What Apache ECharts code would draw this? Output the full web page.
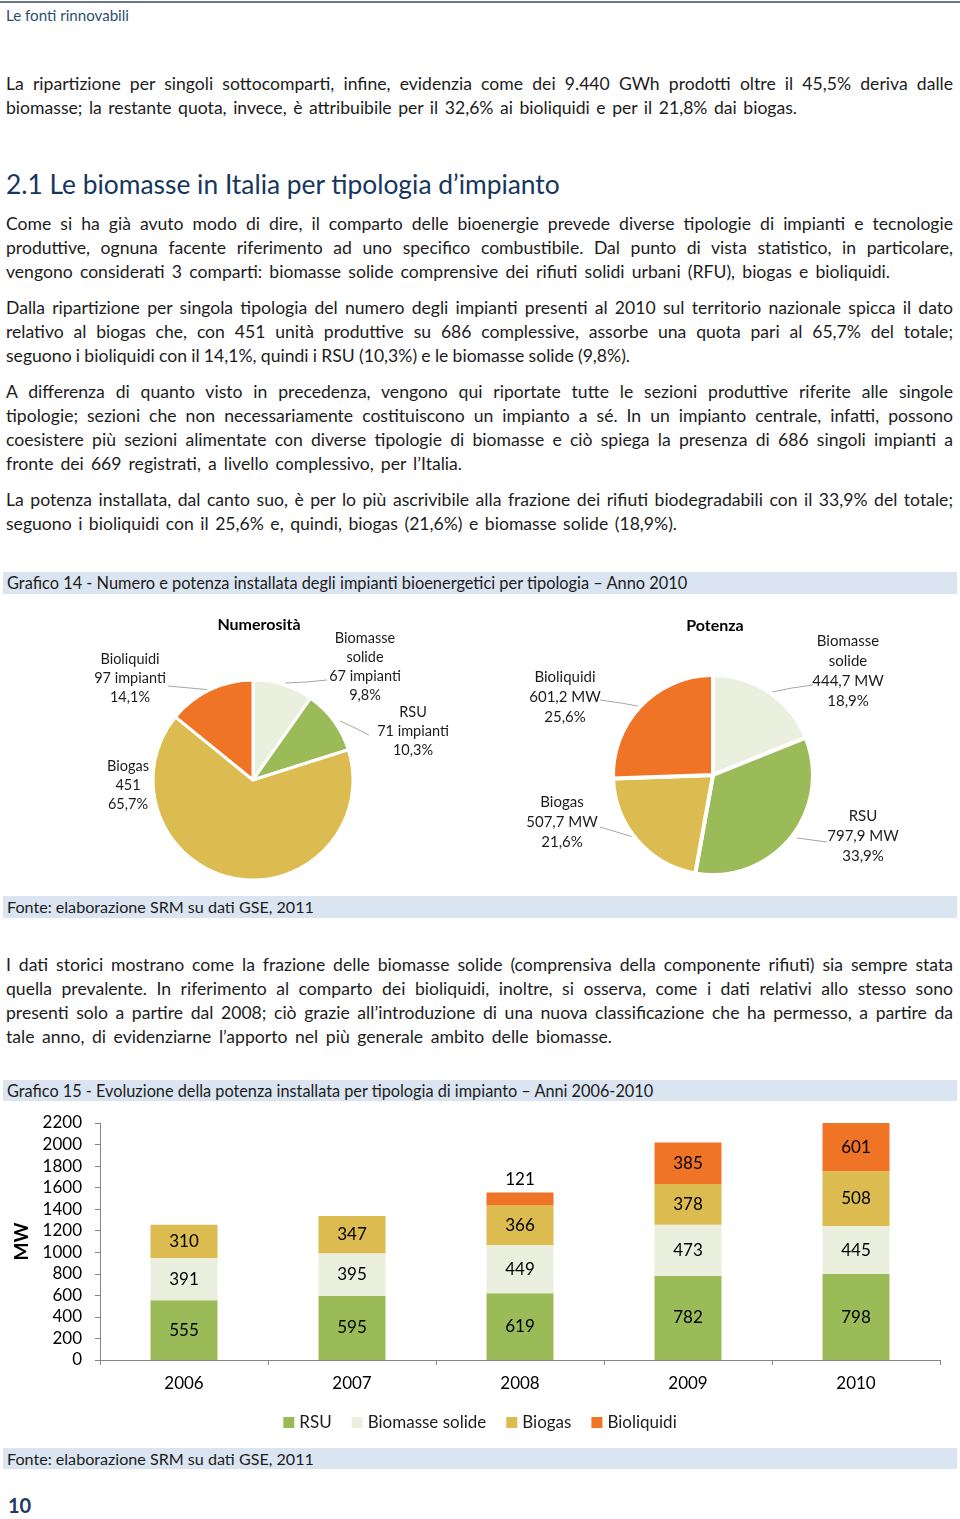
<!DOCTYPE html>
<html><head><meta charset="utf-8">
<script src="https://cdn.jsdelivr.net/npm/echarts@6/dist/echarts.min.js"></script>
<style>
html,body{margin:0;padding:0;background:#fff;}
body{width:960px;height:1519px;position:relative;overflow:hidden;font-family:Lato,"Open Sans",sans-serif;color:#1c1c1c;}
.topline{position:absolute;left:0;top:1px;width:960px;height:2px;background:#6b7785;}
.hdr{position:absolute;left:6px;top:5px;line-height:20px;font-size:14.5px;color:#2e4d72;white-space:nowrap;}
.ln{position:absolute;left:6px;white-space:nowrap;font-size:17.6px;line-height:24px;height:24px;}
.h2{position:absolute;left:6px;top:168px;line-height:32px;font-size:24px;color:#17365d;white-space:nowrap;}
.cap{position:absolute;left:3px;width:954px;background:#dbe5f1;}
.cap span{position:absolute;left:4px;top:0;white-space:nowrap;font-size:15.5px;line-height:22px;color:#1c1c1c;}
.pg{position:absolute;left:8px;top:1493px;font-weight:bold;font-size:20px;line-height:24px;color:#1f3864;}
#pies{position:absolute;left:0;top:600px;width:960px;height:292px;}
#bars{position:absolute;left:0;top:1104px;width:960px;height:342px;}
</style>
</head><body>
<div class="topline"></div>
<div class="hdr fit" data-w="123">Le fonti rinnovabili</div>

<div class="ln" style="top:72px" data-end="953">La ripartizione per singoli sottocomparti, infine, evidenzia come dei 9.440 GWh prodotti oltre il 45,5% deriva dalle</div>
<div class="ln" style="top:96px" data-end="797">biomasse; la restante quota, invece, è attribuibile per il 32,6% ai bioliquidi e per il 21,8% dai biogas.</div>

<div class="h2 fit" data-w="554">2.1 Le biomasse in Italia per tipologia d’impianto</div>

<div class="ln" style="top:212px" data-end="953">Come si ha già avuto modo di dire, il comparto delle bioenergie prevede diverse tipologie di impianti e tecnologie</div>
<div class="ln" style="top:236px" data-end="953">produttive, ognuna facente riferimento ad uno specifico combustibile. Dal punto di vista statistico, in particolare,</div>
<div class="ln" style="top:260px" data-end="890">vengono considerati 3 comparti: biomasse solide comprensive dei rifiuti solidi urbani (RFU), biogas e bioliquidi.</div>

<div class="ln" style="top:296px" data-end="953">Dalla ripartizione per singola tipologia del numero degli impianti presenti al 2010 sul territorio nazionale spicca il dato</div>
<div class="ln" style="top:320px" data-end="953">relativo al biogas che, con 451 unità produttive su 686 complessive, assorbe una quota pari al 65,7% del totale;</div>
<div class="ln" style="top:344px" data-end="630">seguono i bioliquidi con il 14,1%, quindi i RSU (10,3%) e le biomasse solide (9,8%).</div>

<div class="ln" style="top:380px" data-end="953">A differenza di quanto visto in precedenza, vengono qui riportate tutte le sezioni produttive riferite alle singole</div>
<div class="ln" style="top:404px" data-end="953">tipologie; sezioni che non necessariamente costituiscono un impianto a sé. In un impianto centrale, infatti, possono</div>
<div class="ln" style="top:428px" data-end="953">coesistere più sezioni alimentate con diverse tipologie di biomasse e ciò spiega la presenza di 686 singoli impianti a</div>
<div class="ln" style="top:452px" data-end="462">fronte dei 669 registrati, a livello complessivo, per l’Italia.</div>

<div class="ln" style="top:488px" data-end="953">La potenza installata, dal canto suo, è per lo più ascrivibile alla frazione dei rifiuti biodegradabili con il 33,9% del totale;</div>
<div class="ln" style="top:512px" data-end="677">seguono i bioliquidi con il 25,6% e, quindi, biogas (21,6%) e biomasse solide (18,9%).</div>

<div class="cap" style="top:572px;height:22px"><span class="fit" data-w="681">Grafico 14 - Numero e potenza installata degli impianti bioenergetici per tipologia – Anno 2010</span></div>
<div id="pies"></div>
<div class="cap" style="top:896px;height:22px"><span class="fit" data-w="307">Fonte: elaborazione SRM su dati GSE, 2011</span></div>

<div class="ln" style="top:953px" data-end="953">I dati storici mostrano come la frazione delle biomasse solide (comprensiva della componente rifiuti) sia sempre stata</div>
<div class="ln" style="top:977px" data-end="953">quella prevalente. In riferimento al comparto dei bioliquidi, inoltre, si osserva, come i dati relativi allo stesso sono</div>
<div class="ln" style="top:1001px" data-end="953">presenti solo a partire dal 2008; ciò grazie all’introduzione di una nuova classificazione che ha permesso, a partire da</div>
<div class="ln" style="top:1025px" data-end="612">tale anno, di evidenziarne l’apporto nel più generale ambito delle biomasse.</div>

<div class="cap" style="top:1080px;height:21px"><span class="fit" data-w="647" style="line-height:21px">Grafico 15 - Evoluzione della potenza installata per tipologia di impianto – Anni 2006-2010</span></div>
<div id="bars"></div>
<div class="cap" style="top:1448px;height:21px"><span class="fit" data-w="307" style="line-height:21px">Fonte: elaborazione SRM su dati GSE, 2011</span></div>

<div class="pg">10</div>

<script>
// ---- text fitting (layout only) ----
document.querySelectorAll('.ln').forEach(function(el){
  var target = parseFloat(el.getAttribute('data-end')) - 6;
  var r = document.createRange(); r.selectNodeContents(el);
  var w = r.getBoundingClientRect().width;
  var spaces = (el.textContent.match(/ /g) || []).length;
  if (spaces) el.style.wordSpacing = ((target - w) / spaces) + 'px';
});
document.querySelectorAll('.fit').forEach(function(el){
  var target = parseFloat(el.getAttribute('data-w'));
  var r = document.createRange(); r.selectNodeContents(el);
  var w = r.getBoundingClientRect().width;
  var fs = parseFloat(getComputedStyle(el).fontSize);
  el.style.fontSize = (fs * target / w) + 'px';
});

// ---- data ----
var pieCategories = ['Biomasse solide', 'RSU', 'Biogas', 'Bioliquidi'];
var numImpianti = [67, 71, 451, 97];
var numPercent = ['9,8%', '10,3%', '65,7%', '14,1%'];
var potenzaMW = [444.7, 797.9, 507.7, 601.2];
var potPercent = ['18,9%', '33,9%', '21,6%', '25,6%'];

var years = ['2006', '2007', '2008', '2009', '2010'];
var rsu = [555, 595, 619, 782, 798];
var biomasseSolide = [391, 395, 449, 473, 445];
var biogas = [310, 347, 366, 378, 508];
var bioliquidi = [null, null, 121, 385, 601];
var yMin = 0, yMax = 2200, yStep = 200;

// ---- styles ----
var colors = {'RSU':'#9bbb59', 'Biomasse solide':'#ebf0de', 'Biogas':'#dcbc50', 'Bioliquidi':'#ef7426'};
var FONT = 'Lato';
var pie1Units = [' impianti', ' impianti', '', ' impianti'];
var pie1Layout = [
  {x:365, y:66.5, line:[[285,83],[306,82],[327,80]]},
  {x:413, y:131, line:[[340,121],[355,128],[369,135]]},
  {x:128, y:185, line:null},
  {x:130, y:78, line:[[212,90],[190,88],[168,86]]}
];
var pie2Layout = [
  {x:848, y:71, line:[[772,92],[792,88],[813,85]]},
  {x:863, y:236, line:[[797,238],[812,240],[827,242]]},
  {x:562, y:222, line:[[640,239],[620,233],[600,227]]},
  {x:565, y:97, line:[[643,107],[621,103],[600,100]]}
];

function lbl(name){ return name.replace(' ', '\n'); }

var pies = echarts.init(document.getElementById('pies'));
pies.setOption({
  animation:false,
  textStyle:{fontFamily:FONT},
  graphic:[
    {type:'text', x:259, y:25, style:{text:'Numerosità', align:'center', verticalAlign:'middle', font:'bold 16px Lato', fill:'#000'}},
    {type:'text', x:715, y:26, style:{text:'Potenza', align:'center', verticalAlign:'middle', font:'bold 16px Lato', fill:'#000'}}
  ],
  series:[
    {
      type:'pie', center:[253,180], radius:100, startAngle:90, clockwise:true,
      silent:true, emphasis:{disabled:true},
      itemStyle:{borderColor:'#fff', borderWidth:3},
      label:{show:true, fontSize:14.5, lineHeight:19, color:'#1c1c1c', fontFamily:FONT,
        formatter:function(p){ var i=p.dataIndex; return lbl(pieCategories[i]) + '\n' + numImpianti[i] + pie1Units[i] + '\n' + numPercent[i]; }},
      labelLine:{show:true, lineStyle:{color:'#a6a6a6', width:1}},
      labelLayout:function(p){ var L = pie1Layout[p.dataIndex]; var o = {x:L.x, y:L.y, align:'center', verticalAlign:'middle'}; if (L.line) o.labelLinePoints = L.line; return o; },
      data: pieCategories.map(function(c,i){ var d = {name:c, value:numImpianti[i], itemStyle:{color:colors[c]}}; if(!pie1Layout[i].line) d.labelLine={show:false}; return d; })
    },
    {
      type:'pie', center:[713,175], radius:100, startAngle:90, clockwise:true,
      silent:true, emphasis:{disabled:true},
      itemStyle:{borderColor:'#fff', borderWidth:4},
      label:{show:true, fontSize:15, lineHeight:20, color:'#1c1c1c', fontFamily:FONT,
        formatter:function(p){ var i=p.dataIndex; return lbl(pieCategories[i]) + '\n' + potenzaMW[i].toFixed(1).replace('.', ',') + ' MW\n' + potPercent[i]; }},
      labelLine:{show:true, lineStyle:{color:'#a6a6a6', width:1}},
      labelLayout:function(p){ var L = pie2Layout[p.dataIndex]; return {x:L.x, y:L.y, align:'center', verticalAlign:'middle', labelLinePoints:L.line}; },
      data: pieCategories.map(function(c,i){ return {name:c, value:potenzaMW[i], itemStyle:{color:colors[c]}}; })
    }
  ]
});

var barNames = ['RSU', 'Biomasse solide', 'Biogas', 'Bioliquidi'];
var barData = [rsu, biomasseSolide, biogas, bioliquidi];
var bars = echarts.init(document.getElementById('bars'));
bars.setOption({
  animation:false,
  textStyle:{fontFamily:FONT},
  grid:{left:100, right:20, top:19, bottom:86, containLabel:false},
  legend:{show:true, left:'center', top:305, itemWidth:11, itemHeight:11, itemGap:20, icon:'rect',
    textStyle:{fontSize:17, color:'#1c1c1c', fontFamily:FONT}, data:barNames, selectedMode:false},
  xAxis:{type:'category', data:years, boundaryGap:true,
    axisLine:{lineStyle:{color:'#868686', width:1}},
    axisTick:{show:true, length:5, alignWithLabel:false, lineStyle:{color:'#868686'}},
    axisLabel:{fontSize:17, color:'#000', margin:15}},
  yAxis:{type:'value', min:yMin, max:yMax, interval:yStep,
    name:'MW', nameLocation:'middle', nameGap:68, nameRotate:90,
    nameTextStyle:{fontSize:19, fontWeight:'bold', color:'#000'},
    axisLine:{show:true, lineStyle:{color:'#868686', width:1}},
    axisTick:{show:true, length:5, lineStyle:{color:'#868686'}},
    splitLine:{show:false},
    axisLabel:{fontSize:17, color:'#000', margin:18, formatter:function(v){ return String(v); }}},
  series: barNames.map(function(n, k){
    return {
      name:n, type:'bar', stack:'tot', barWidth:67, silent:true,
      itemStyle:{color:colors[n]},
      label:{show:true, position:'inside', fontSize:17, color:'#000'},
      data: barData[k].map(function(v){ return (v !== null && v < 150) ? {value:v, label:{position:'top', distance:4}} : v; })
    };
  })
});
</script>
</body></html>
